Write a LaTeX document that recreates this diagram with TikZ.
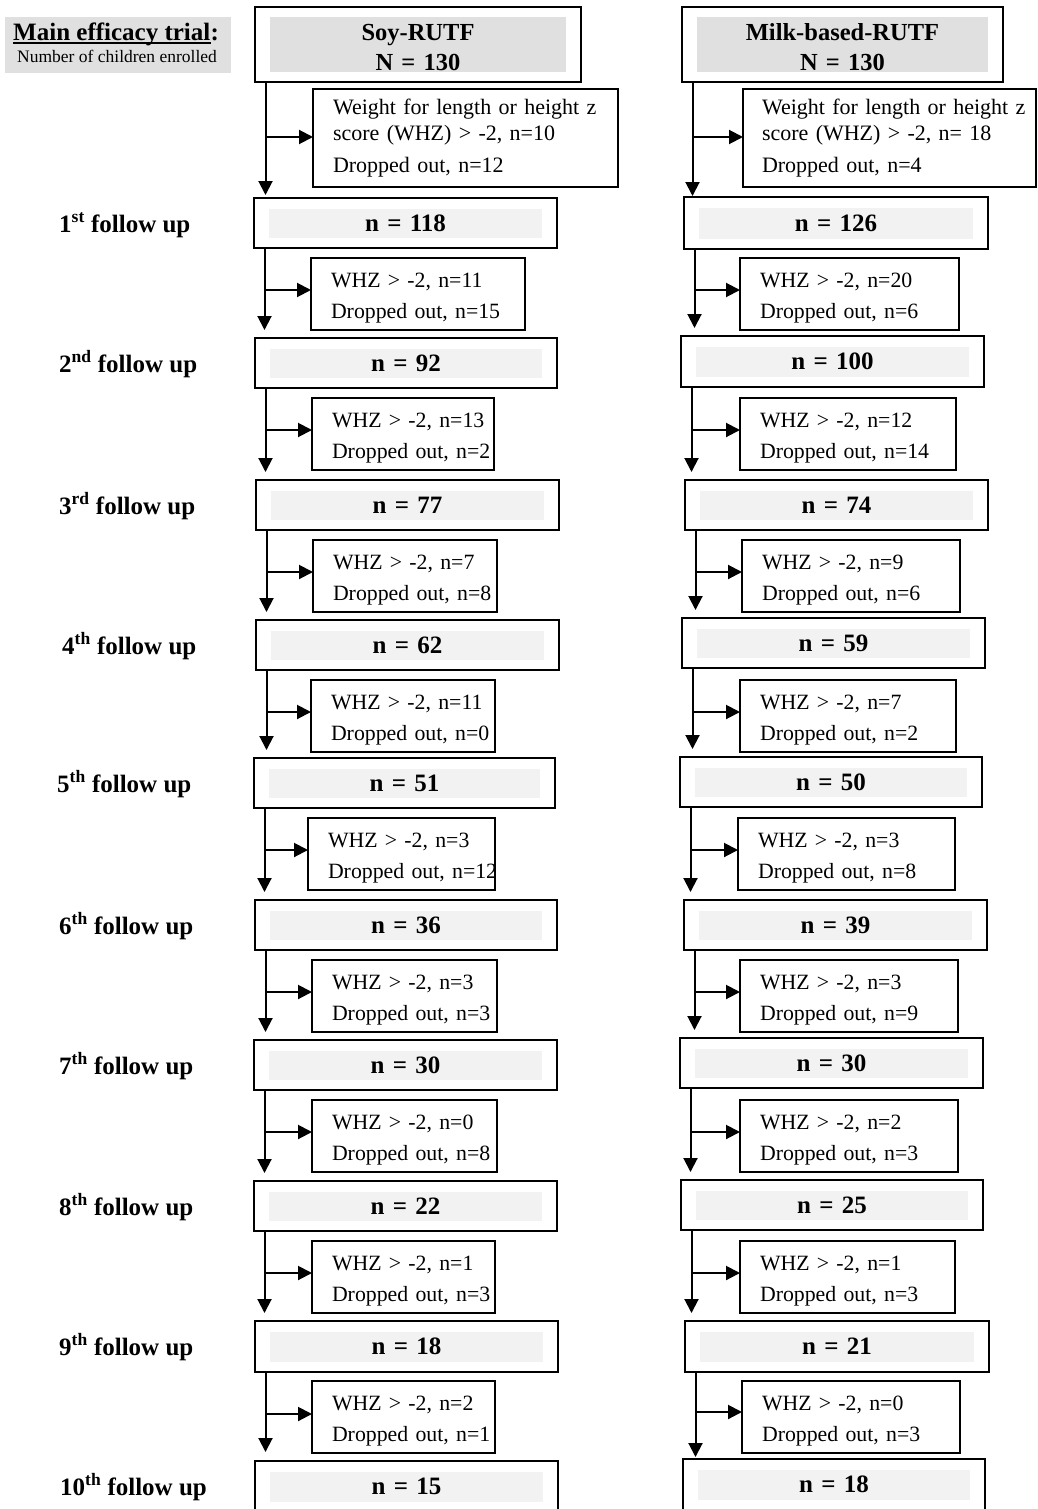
\documentclass[tikz,border=0pt]{standalone}
\usepackage{fontspec}
\setmainfont{Liberation Serif}
\usetikzlibrary{arrows.meta,calc}
\definecolor{hdrgray}{HTML}{E0E0E0}
\definecolor{ngray}{HTML}{F2F2F2}
\tikzset{
  boxline/.style={draw=black, line width=2pt, outer sep=0pt, fill=white},
  insetfill/.style={path picture={\fill[#1] ([xshift=15pt,yshift=-10.5pt]path picture bounding box.north west) rectangle ([xshift=-15pt,yshift=10pt]path picture bounding box.south east);}},
  nbox/.style={boxline, insetfill=ngray, inner ysep=0pt, align=center, font=\fontsize{25}{30}\selectfont\bfseries},
  topbox/.style={boxline, insetfill=hdrgray, inner ysep=0pt, align=center, font=\fontsize{24.5}{30}\selectfont\bfseries},
  sidebox/.style={boxline, inner ysep=0pt, align=left, font=\fontsize{21.8}{31}\selectfont},
  firstbox/.style={boxline, inner ysep=0pt, align=left, font=\fontsize{22}{25}\selectfont},
  fulab/.style={anchor=base west, inner sep=0pt, font=\fontsize{25}{30}\selectfont\bfseries},
  conn/.style={line width=2pt, -{Triangle[length=14pt,width=14pt]}},
}
% style, name, x1, y1, x2, y2, horizontal padding, content
\newcommand\cornerbx[8]{%
  \pgfmathsetmacro\bw{#5-#3}\pgfmathsetmacro\bh{#6-#4}\pgfmathsetmacro\tw{#5-#3-2*#7}%
  \node[#1, minimum width=\bw pt, minimum height=\bh pt, inner xsep=#7pt, text width=\tw pt] (#2) at ({(#3+#5)/2},{(#4+#6)/2}) {#8};}
\newcommand\sidebx[7]{%
  \cornerbx{sidebox}{#1}{#2}{#3}{#4}{#5}{20}{\rule{0pt}{29pt}\mbox{#6}\\\mbox{#7}\rule[-12pt]{0pt}{12pt}}}
\newcommand\flowarr[5]{%
  \coordinate (#1v) at ([xshift=10.5pt]#1.south west);
  \coordinate (#2h) at ([yshift=-#4pt]#2.north west);
  \draw[conn] (#1v) -- ($(#1v |- #3.north)+(0,-#5)$);
  \draw[conn] (#1v |- #2h) -- (#2h);}
\begin{document}
\begin{tikzpicture}[x=1pt,y=-1pt]
\useasboundingbox (0,0) rectangle (1038,1509);
\clip (0,0) rectangle (1038,1509);
% header
\fill[hdrgray] (5,17) rectangle (231,73);
\node[anchor=base west, inner sep=0pt, font=\fontsize{25}{30}\selectfont\bfseries] (title) at (13,41) {Main efficacy trial};
\node[anchor=base west, inner sep=0pt, font=\fontsize{25}{30}\selectfont\bfseries] (colon) at (title.base east) {:};
\draw[line width=2pt] ([yshift=-2.5pt]title.base west) -- ([yshift=-2.5pt]title.base east);
\node[anchor=base west, inner sep=0pt, font=\fontsize{17.5}{20}\selectfont] (sub) at (17,63) {Number of children enrolled};
% top boxes
\cornerbx{topbox}{soy}{255}{7}{581}{82}{0}{\rule{0pt}{34pt}Soy-RUTF\\N = 130\rule[-11pt]{0pt}{11pt}}
\cornerbx{topbox}{milk}{682}{7}{1003}{82}{0}{\rule{0pt}{34pt}Milk-based-RUTF\\N = 130\rule[-11pt]{0pt}{11pt}}
\cornerbx{firstbox}{ls0}{313}{89}{618}{187}{20}{\rule{0pt}{26pt}\mbox{Weight for length or height z}\\\mbox{score (WHZ) > -2, n=10}\\[8pt]\mbox{Dropped out, n=12}\rule[-14pt]{0pt}{14pt}}
\cornerbx{firstbox}{rs0}{743}{89}{1036}{187}{19}{\rule{0pt}{26pt}\mbox{Weight for length or height z}\\\mbox{score (WHZ) > -2, n= 18}\\[8pt]\mbox{Dropped out, n=4}\rule[-14pt]{0pt}{14pt}}
% left n boxes
\cornerbx{nbox}{l1}{254}{198}{557}{248}{0}{n = 118}
\cornerbx{nbox}{l2}{255}{338}{557}{388}{0}{n = 92}
\cornerbx{nbox}{l3}{256}{480}{559}{530}{0}{n = 77}
\cornerbx{nbox}{l4}{256}{620}{559}{670}{0}{n = 62}
\cornerbx{nbox}{l5}{254}{758}{555}{808}{0}{n = 51}
\cornerbx{nbox}{l6}{255}{900}{557}{950}{0}{n = 36}
\cornerbx{nbox}{l7}{254}{1040}{557}{1090}{0}{n = 30}
\cornerbx{nbox}{l8}{254}{1181}{557}{1231}{0}{n = 22}
\cornerbx{nbox}{l9}{255}{1321}{558}{1372}{0}{n = 18}
\cornerbx{nbox}{l10}{255}{1461}{558}{1512}{0}{n = 15}
% right n boxes
\cornerbx{nbox}{r1}{684}{197}{988}{249}{0}{n = 126}
\cornerbx{nbox}{r2}{681}{336}{984}{387}{0}{n = 100}
\cornerbx{nbox}{r3}{685}{480}{988}{530}{0}{n = 74}
\cornerbx{nbox}{r4}{682}{618}{985}{668}{0}{n = 59}
\cornerbx{nbox}{r5}{680}{757}{982}{807}{0}{n = 50}
\cornerbx{nbox}{r6}{684}{900}{987}{950}{0}{n = 39}
\cornerbx{nbox}{r7}{680}{1038}{983}{1088}{0}{n = 30}
\cornerbx{nbox}{r8}{681}{1180}{983}{1230}{0}{n = 25}
\cornerbx{nbox}{r9}{685}{1321}{989}{1372}{0}{n = 21}
\cornerbx{nbox}{r10}{683}{1459}{985}{1510}{0}{n = 18}
% left side boxes
\sidebx{ls1}{311}{258}{525}{330}{WHZ > -2, n=11}{Dropped out, n=15}
\sidebx{ls2}{312}{398}{494}{470}{WHZ > -2, n=13}{Dropped out, n=2}
\sidebx{ls3}{313}{540}{497}{612}{WHZ > -2, n=7}{Dropped out, n=8}
\sidebx{ls4}{311}{680}{495}{752}{WHZ > -2, n=11}{Dropped out, n=0}
\sidebx{ls5}{308}{818}{495}{890}{WHZ > -2, n=3}{Dropped out, n=12}
\sidebx{ls6}{312}{960}{497}{1032}{WHZ > -2, n=3}{Dropped out, n=3}
\sidebx{ls7}{312}{1100}{497}{1172}{WHZ > -2, n=0}{Dropped out, n=8}
\sidebx{ls8}{312}{1241}{495}{1313}{WHZ > -2, n=1}{Dropped out, n=3}
\sidebx{ls9}{312}{1381}{495}{1453}{WHZ > -2, n=2}{Dropped out, n=1}
% right side boxes
\sidebx{rs1}{740}{258}{959}{330}{WHZ > -2, n=20}{Dropped out, n=6}
\sidebx{rs2}{740}{398}{956}{470}{WHZ > -2, n=12}{Dropped out, n=14}
\sidebx{rs3}{742}{540}{960}{612}{WHZ > -2, n=9}{Dropped out, n=6}
\sidebx{rs4}{740}{680}{956}{752}{WHZ > -2, n=7}{Dropped out, n=2}
\sidebx{rs5}{738}{818}{955}{890}{WHZ > -2, n=3}{Dropped out, n=8}
\sidebx{rs6}{740}{960}{958}{1032}{WHZ > -2, n=3}{Dropped out, n=9}
\sidebx{rs7}{740}{1100}{958}{1172}{WHZ > -2, n=2}{Dropped out, n=3}
\sidebx{rs8}{740}{1241}{955}{1313}{WHZ > -2, n=1}{Dropped out, n=3}
\sidebx{rs9}{742}{1381}{960}{1453}{WHZ > -2, n=0}{Dropped out, n=3}
% follow-up labels
\node[fulab] (f1) at (59,232) {1\textsuperscript{st} follow up};
\node[fulab] (f2) at (59,372) {2\textsuperscript{nd} follow up};
\node[fulab] (f3) at (59,514) {3\textsuperscript{rd} follow up};
\node[fulab] (f4) at (62,654) {4\textsuperscript{th} follow up};
\node[fulab] (f5) at (57,792) {5\textsuperscript{th} follow up};
\node[fulab] (f6) at (59,934) {6\textsuperscript{th} follow up};
\node[fulab] (f7) at (59,1074) {7\textsuperscript{th} follow up};
\node[fulab] (f8) at (59,1215) {8\textsuperscript{th} follow up};
\node[fulab] (f9) at (59,1355) {9\textsuperscript{th} follow up};
\node[fulab] (f10) at (60,1495) {10\textsuperscript{th} follow up};
% connectors
\flowarr{soy}{ls0}{l1}{48}{3}
\flowarr{milk}{rs0}{r1}{48}{1}
\flowarr{l1}{ls1}{l2}{32}{8}
\flowarr{l2}{ls2}{l3}{32}{8}
\flowarr{l3}{ls3}{l4}{32}{8}
\flowarr{l4}{ls4}{l5}{32}{8}
\flowarr{l5}{ls5}{l6}{32}{8}
\flowarr{l6}{ls6}{l7}{32}{8}
\flowarr{l7}{ls7}{l8}{32}{8}
\flowarr{l8}{ls8}{l9}{32}{8}
\flowarr{l9}{ls9}{l10}{33}{9}
\flowarr{r1}{rs1}{r2}{32}{8}
\flowarr{r2}{rs2}{r3}{32}{8}
\flowarr{r3}{rs3}{r4}{32}{8}
\flowarr{r4}{rs4}{r5}{32}{8}
\flowarr{r5}{rs5}{r6}{32}{8}
\flowarr{r6}{rs6}{r7}{32}{8}
\flowarr{r7}{rs7}{r8}{32}{8}
\flowarr{r8}{rs8}{r9}{32}{8}
\flowarr{r9}{rs9}{r10}{31}{2}
\end{tikzpicture}
\end{document}
